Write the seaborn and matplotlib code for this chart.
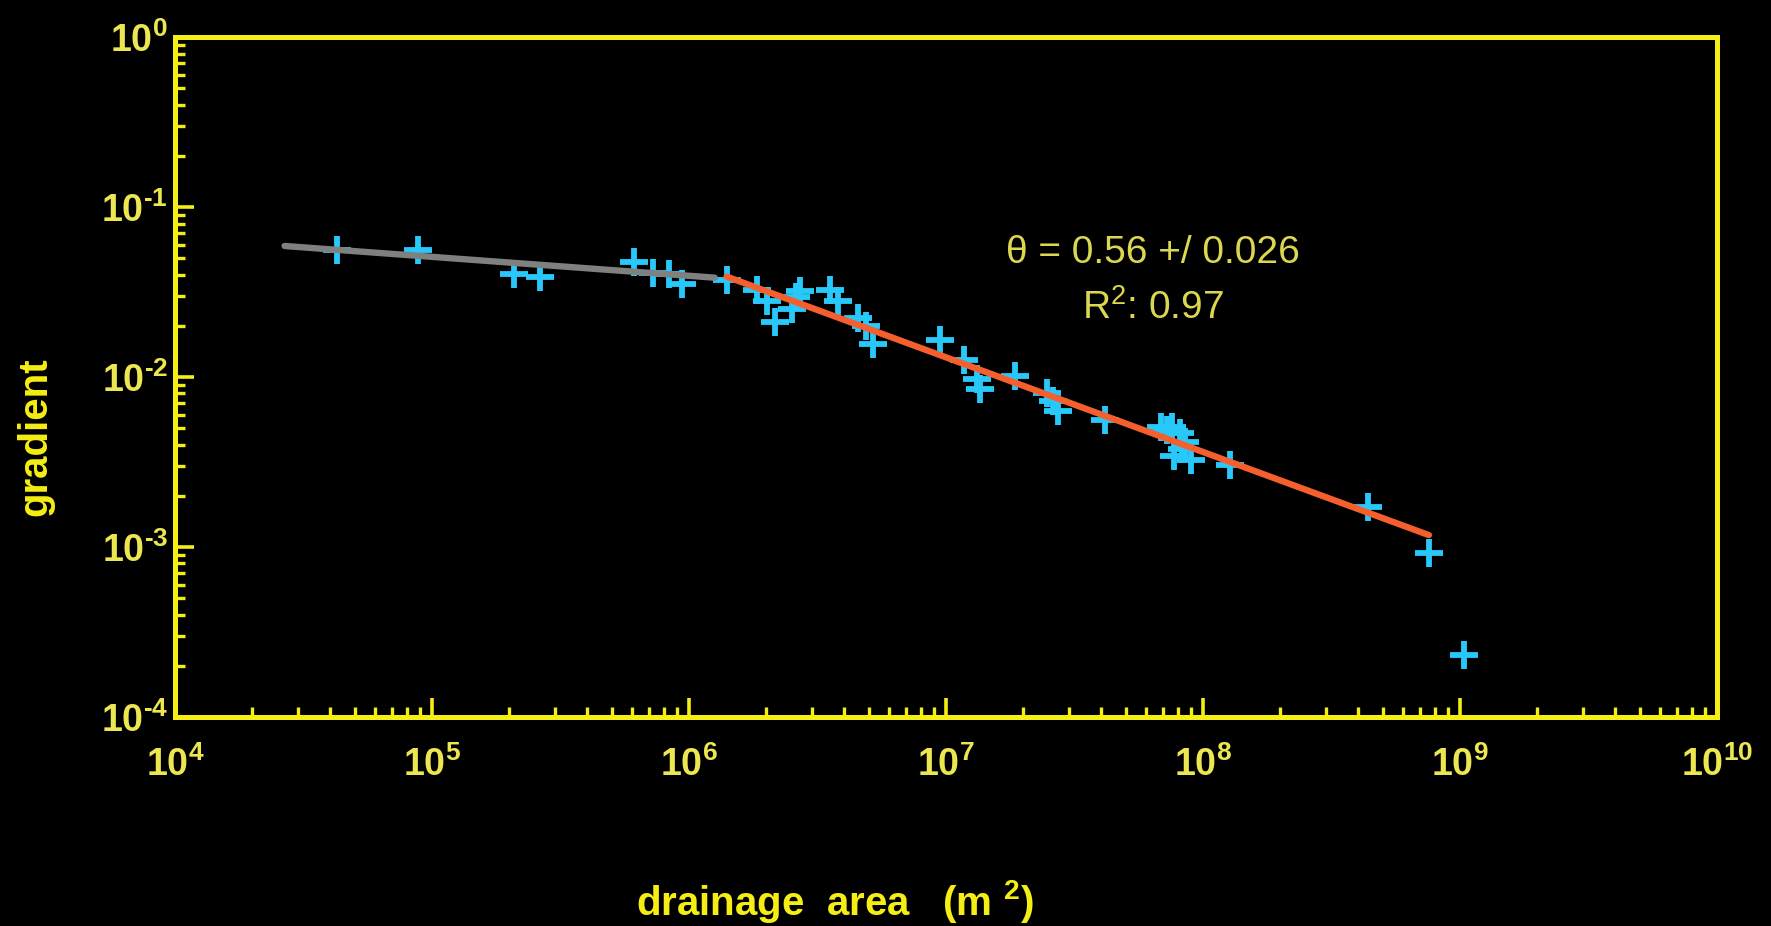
import numpy as np
import pandas as pd
import seaborn as sns
import matplotlib.pyplot as plt
from matplotlib.ticker import LogLocator, NullFormatter, FuncFormatter

# punkty pomiarowe (pole zlewni [m2], spadek)
area = [4.26e4, 8.8e4, 2.08e5, 2.63e5, 6.09e5, 7.23e5, 8.33e5, 9.42e5,
        1.40e6, 1.84e6, 2.01e6, 2.16e6, 2.51e6, 2.62e6, 2.70e6, 3.54e6,
        3.80e6, 4.56e6, 4.90e6, 5.20e6, 9.46e6, 1.17e7, 1.32e7, 1.36e7,
        1.86e7, 2.47e7, 2.60e7, 2.74e7, 4.15e7, 6.87e7, 7.23e7, 7.60e7,
        7.69e7, 8.17e7, 8.25e7, 8.51e7, 8.95e7, 1.27e8, 4.39e8, 7.57e8,
        1.04e9]
gradient = [0.0555, 0.0555, 0.0402, 0.0390, 0.0476, 0.0409, 0.0402, 0.0351,
            0.0373, 0.0325, 0.0279, 0.0212, 0.0250, 0.0296, 0.0320, 0.0325,
            0.0279, 0.0222, 0.0199, 0.0156, 0.0166, 0.0126, 0.0097, 0.00846,
            0.0102, 0.00807, 0.00725, 0.00632, 0.0056, 0.0051, 0.00488, 0.0051,
            0.00343, 0.00466, 0.00376, 0.00412, 0.00327, 0.00303, 0.00172, 0.00092,
            0.000232]

# linie dopasowania
upper_x = [2.67e4, 1.26e6]
upper_y = [0.059, 0.0384]
fit_x = [1.40e6, 7.57e8]
fit_y = [0.039, 0.001175]

theta_text = "θ = 0.56 +/ 0.026"
r2_text = "R$^2$: 0.97"

yellow = "#f5ee14"
label_yellow = "#ece650"
note_color = "#dcd750"

sns.set_style("dark")
plt.rcParams["font.family"] = ["Liberation Sans", "DejaVu Sans"]
plt.rcParams["mathtext.default"] = "regular"


def decade_label(v, pos):
    # wykładnik z krótkim myślnikiem jak w oryginale
    e = int(round(np.log10(v)))
    s = str(e).replace("-", "\u2010")
    return "$10^{" + s + "}$"


fig = plt.figure(figsize=(17.71, 9.26), dpi=100, facecolor="black")
ax = fig.add_axes([0.0988, 0.2257, 0.8707, 0.7343])
ax.set_facecolor("black")

pts = pd.DataFrame({"area": area, "gradient": gradient})
sns.lineplot(x=upper_x, y=upper_y, color="#808080", linewidth=4.6, ax=ax)
sns.lineplot(x=fit_x, y=fit_y, color="#f55f2d", linewidth=4.6, ax=ax)
sns.scatterplot(data=pts, x="area", y="gradient", marker="+", s=380,
                linewidth=4.2, color="#28c8fa", ax=ax, zorder=1)

ax.set_xscale("log")
ax.set_yscale("log")
ax.set_xlim(1e4, 1e10)
ax.set_ylim(1e-4, 1)
ax.grid(False)

ax.xaxis.set_major_locator(LogLocator(base=10, numticks=20))
ax.xaxis.set_minor_locator(LogLocator(base=10, subs=np.arange(2, 10), numticks=100))
ax.yaxis.set_major_locator(LogLocator(base=10, numticks=20))
ax.yaxis.set_minor_locator(LogLocator(base=10, subs=np.arange(2, 10), numticks=100))
ax.xaxis.set_major_formatter(FuncFormatter(decade_label))
ax.yaxis.set_major_formatter(FuncFormatter(decade_label))
ax.xaxis.set_minor_formatter(NullFormatter())
ax.yaxis.set_minor_formatter(NullFormatter())

for sp in ax.spines.values():
    sp.set_color(yellow)
    sp.set_linewidth(3.6)
    sp.set_visible(True)

ax.tick_params(which="both", direction="in", color=yellow, top=False, right=False,
               bottom=True, left=True)
ax.tick_params(which="major", length=14, width=2.6)
ax.tick_params(which="minor", length=7, width=2.4)
ax.tick_params(axis="x", which="major", pad=21, labelsize=27, labelcolor=label_yellow)
ax.tick_params(axis="y", which="major", pad=5, labelsize=27, labelcolor=label_yellow)
for lab in ax.get_xticklabels() + ax.get_yticklabels():
    lab.set_fontweight("bold")

ax.set_xlabel("")
ax.set_ylabel("")

fig.text(0.4715, 0.012, "drainage  area   (m $^2$)", ha="center", va="baseline",
         fontsize=29, fontweight="bold", color=yellow)
fig.text(0.0198, 0.528, "gradient", ha="center", va="center", rotation=90,
         fontsize=29, fontweight="bold", color=yellow)

fig.text(0.651, 0.716, theta_text, ha="center", va="baseline",
         fontsize=28, color=note_color)
fig.text(0.651, 0.6555, r2_text, ha="center", va="baseline",
         fontsize=28, color=note_color)

fig.savefig("out.png", dpi=100, facecolor="black")
